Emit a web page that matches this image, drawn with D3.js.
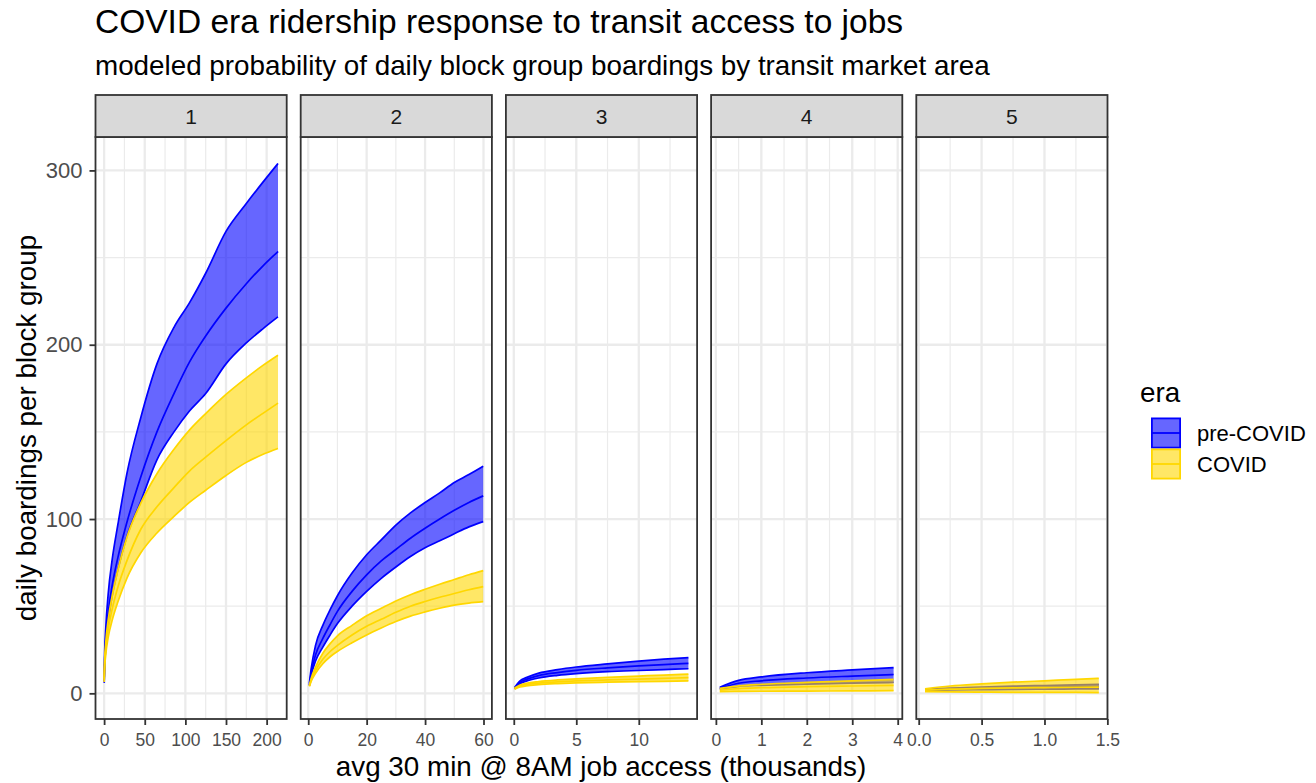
<!DOCTYPE html>
<html>
<head>
<meta charset="utf-8">
<script src="https://cdn.jsdelivr.net/npm/d3@7/dist/d3.min.js"></script>
<style>
  html, body { margin: 0; padding: 0; background: #ffffff; }
  svg { display: block; font-family: "Liberation Sans", Arial, Helvetica, sans-serif; }
</style>
</head>
<body>
<svg id="chart" width="1316" height="783"></svg>
<script>
// ---- data: modeled daily boardings by job access, per transit market area ----
const marketAreas = ["1", "2", "3", "4", "5"];
const eras = ["pre-COVID", "COVID"];

// market area 1 (access in thousands of jobs)
const ma1Access = [0.1, 0.5, 2, 5, 10, 17, 28, 45, 65, 86, 105, 125, 150, 175, 195, 214];
const ma1PreLow = [6, 13, 27, 41, 56, 71, 90, 110, 134, 150, 162, 172, 189, 201, 209, 216];
const ma1PreMid = [7.5, 16, 30, 46, 62, 78, 98, 124, 150, 172, 190, 205, 221, 235, 245, 253.5];
const ma1PreHigh = [9, 20, 37, 57, 77, 97, 126, 158, 189, 210, 224, 241, 265, 281, 293, 304];
const ma1CovLow = [6.5, 13, 22, 32, 42, 52.5, 66, 80.5, 92, 101.5, 109.5, 116.5, 125, 132.5, 137, 140.5];
const ma1CovMid = [7.5, 15, 25, 36.5, 48.5, 61, 76, 94, 107, 118, 127.5, 135.5, 145, 154, 160.5, 166.5];
const ma1CovHigh = [8.5, 17.5, 29, 42, 56, 71, 89.5, 109, 126, 140, 151, 160.5, 171.5, 181, 188, 194];

// market area 2
const ma2Access = [0.4, 1, 2.5, 5, 7.5, 10, 15, 20, 25, 30, 35, 40, 45, 50, 55, 59.9];
const ma2PreLow = [4.5, 10, 18.5, 26.5, 33.5, 40, 50, 58.5, 66, 72.5, 78.5, 83.5, 87.5, 91.6, 95.5, 98.5];
const ma2PreMid = [5, 11.5, 22, 31.5, 39.5, 47, 58.5, 68, 76, 82.5, 89, 94.7, 100, 105, 109.5, 113.3];
const ma2PreHigh = [6, 14, 27.5, 39, 48, 56, 69, 79.5, 88, 96.5, 103.5, 109.5, 115, 121, 125.5, 130.3];
const ma2CovLow = [4, 6.8, 11.5, 17, 21, 24, 29, 33.5, 37.5, 41.2, 44.3, 46.7, 48.8, 50.6, 51.8, 52.6];
const ma2CovMid = [4.2, 7.5, 13, 19.5, 24, 27.5, 33.5, 38.5, 42.5, 46.5, 50, 52.7, 55.1, 57.3, 59.4, 61.2];
const ma2CovHigh = [4.5, 8.5, 15, 23, 28.5, 33, 39, 44.5, 48.8, 53, 56.6, 59.7, 62.6, 65.3, 68, 70.4];

// market area 3
const ma3Access = [0.065, 0.5, 1, 2, 3.5, 5, 7.5, 10, 12, 13.97];
const ma3PreLow = [2.5, 5.5, 7, 8.8, 10.3, 11.3, 12.4, 13.1, 13.6, 14.1];
const ma3PreMid = [2.9, 6.3, 8, 10.2, 11.9, 13.2, 14.6, 15.7, 16.5, 17.2];
const ma3PreHigh = [3.3, 7.2, 9, 11.6, 13.6, 15.1, 16.9, 18.5, 19.6, 20.5];
const ma3CovLow = [2.3, 3.6, 4.3, 5.0, 5.6, 6.0, 6.4, 6.7, 6.9, 7.1];
const ma3CovMid = [2.7, 4.2, 5.0, 5.9, 6.6, 7.1, 7.7, 8.2, 8.6, 9.0];
const ma3CovHigh = [3.1, 4.8, 5.8, 6.8, 7.7, 8.3, 9.2, 9.9, 10.5, 11.0];

// market area 4
const ma4Access = [0.086, 0.5, 1, 2, 3, 3.91];
const ma4PreLow = [2.4, 4.0, 4.6, 5.3, 5.8, 6.2];
const ma4PreMid = [2.9, 5.8, 7.2, 8.8, 9.9, 10.8];
const ma4PreHigh = [3.4, 7.4, 9.4, 11.8, 13.4, 14.7];
const ma4CovLow = [0.9, 1.1, 1.2, 1.3, 1.4, 1.5];
const ma4CovMid = [1.8, 2.7, 3.2, 3.8, 4.2, 4.6];
const ma4CovHigh = [2.8, 4.3, 5.2, 6.3, 7.2, 8.0];

// market area 5
const ma5Access = [0.05, 0.25, 0.5, 0.75, 1.0, 1.25, 1.432];
const ma5PreLow = [1.5, 1.9, 2.1, 2.3, 2.4, 2.5, 2.6];
const ma5PreMid = [1.8, 2.4, 2.9, 3.2, 3.5, 3.7, 3.8];
const ma5PreHigh = [2.1, 3.0, 3.6, 4.1, 4.5, 4.9, 5.1];
const ma5CovLow = [1.0, 0.8, 0.7, 0.6, 0.55, 0.5, 0.45];
const ma5CovMid = [1.8, 2.4, 2.8, 3.1, 3.3, 3.5, 3.6];
const ma5CovHigh = [2.6, 4.2, 5.4, 6.4, 7.2, 8.0, 8.6];

// tick values
const yTicks = [0, 100, 200, 300];
const yMinorTicks = [50, 150, 250];
const xTicksByArea = [[0, 50, 100, 150, 200], [0, 20, 40, 60], [0, 5, 10], [0, 1, 2, 3, 4], [0, 0.5, 1, 1.5]];
const xMinorByArea = [[25, 75, 125, 175], [10, 30, 50], [2.5, 7.5, 12.5], [0.5, 1.5, 2.5, 3.5], [0.25, 0.75, 1.25]];
const xTickFormats = [d3.format("d"), d3.format("d"), d3.format("d"), d3.format("d"), d3.format(".1f")];

// ---- assemble series per panel ----
function band(x, lo, mid, hi) {
  return x.map((v, i) => ({ x: v, lo: lo[i], mid: mid[i], hi: hi[i] }));
}
const panels = [
  { x: ma1Access, pre: band(ma1Access, ma1PreLow, ma1PreMid, ma1PreHigh), cov: band(ma1Access, ma1CovLow, ma1CovMid, ma1CovHigh) },
  { x: ma2Access, pre: band(ma2Access, ma2PreLow, ma2PreMid, ma2PreHigh), cov: band(ma2Access, ma2CovLow, ma2CovMid, ma2CovHigh) },
  { x: ma3Access, pre: band(ma3Access, ma3PreLow, ma3PreMid, ma3PreHigh), cov: band(ma3Access, ma3CovLow, ma3CovMid, ma3CovHigh) },
  { x: ma4Access, pre: band(ma4Access, ma4PreLow, ma4PreMid, ma4PreHigh), cov: band(ma4Access, ma4CovLow, ma4CovMid, ma4CovHigh) },
  { x: ma5Access, pre: band(ma5Access, ma5PreLow, ma5PreMid, ma5PreHigh), cov: band(ma5Access, ma5CovLow, ma5CovMid, ma5CovHigh) }
];

// ---- layout ----
const svg = d3.select("#chart");
const panelLeft = 95.5, panelW = 191.2, panelGap = 14;
const panelTop = 137, panelBottom = 719, stripTop = 95;
const colors = { "pre-COVID": "#0000FF", "COVID": "#FFD700" };
const fillAlpha = 0.6;
const gridColor = "#EBEBEB";

function expand(ext) {
  const r = ext[1] - ext[0];
  return [ext[0] - 0.05 * r, ext[1] + 0.05 * r];
}

// shared y scale
const allY = panels.flatMap(p => p.pre.concat(p.cov).flatMap(d => [d.lo, d.hi]));
const y = d3.scaleLinear().domain(expand(d3.extent(allY))).range([panelBottom, panelTop]);

// titles
svg.append("text").attr("x", 95).attr("y", 33)
  .attr("font-size", 33.5).attr("fill", "#000")
  .text("COVID era ridership response to transit access to jobs");
svg.append("text").attr("x", 95).attr("y", 75)
  .attr("font-size", 27.8).attr("fill", "#000")
  .text("modeled probability of daily block group boardings by transit market area");

const defs = svg.append("defs");

panels.forEach((p, i) => {
  const x0 = panelLeft + i * (panelW + panelGap);
  const x = d3.scaleLinear().domain(expand(d3.extent(p.x))).range([x0, x0 + panelW]);

  const clipId = "clip-" + i;
  defs.append("clipPath").attr("id", clipId)
    .append("rect").attr("x", x0).attr("y", panelTop).attr("width", panelW).attr("height", panelBottom - panelTop);

  const g = svg.append("g");
  g.append("rect").attr("x", x0).attr("y", panelTop).attr("width", panelW).attr("height", panelBottom - panelTop).attr("fill", "#fff");

  const grid = g.append("g").attr("clip-path", `url(#${clipId})`);
  // minor grid
  grid.selectAll(".ymin").data(yMinorTicks).join("line")
    .attr("x1", x0).attr("x2", x0 + panelW).attr("y1", d => y(d)).attr("y2", d => y(d))
    .attr("stroke", gridColor).attr("stroke-width", 1.2);
  grid.selectAll(".xmin").data(xMinorByArea[i]).join("line")
    .attr("x1", d => x(d)).attr("x2", d => x(d)).attr("y1", panelTop).attr("y2", panelBottom)
    .attr("stroke", gridColor).attr("stroke-width", 1.2);
  // major grid
  grid.selectAll(".ymaj").data(yTicks).join("line")
    .attr("x1", x0).attr("x2", x0 + panelW).attr("y1", d => y(d)).attr("y2", d => y(d))
    .attr("stroke", gridColor).attr("stroke-width", 2.3);
  grid.selectAll(".xmaj").data(xTicksByArea[i]).join("line")
    .attr("x1", d => x(d)).attr("x2", d => x(d)).attr("y1", panelTop).attr("y2", panelBottom)
    .attr("stroke", gridColor).attr("stroke-width", 2.3);

  // ribbons and lines, pre-COVID first, COVID drawn over it
  const marks = g.append("g").attr("clip-path", `url(#${clipId})`);
  const area = d3.area().x(d => x(d.x)).y0(d => y(d.lo)).y1(d => y(d.hi)).curve(d3.curveMonotoneX);
  const line = key => d3.line().x(d => x(d.x)).y(d => y(d[key])).curve(d3.curveMonotoneX);
  [["pre-COVID", p.pre], ["COVID", p.cov]].forEach(([era, data]) => {
    const c = colors[era];
    const eg = marks.append("g");
    eg.append("path").datum(data).attr("d", area).attr("fill", c).attr("fill-opacity", fillAlpha);
    ["lo", "hi", "mid"].forEach(k => {
      eg.append("path").datum(data).attr("d", line(k))
        .attr("fill", "none").attr("stroke", c).attr("stroke-width", 1.7).attr("stroke-linejoin", "round");
    });
  });

  // panel border
  g.append("rect").attr("x", x0).attr("y", panelTop).attr("width", panelW).attr("height", panelBottom - panelTop)
    .attr("fill", "none").attr("stroke", "#333333").attr("stroke-width", 1.8);

  // strip
  g.append("rect").attr("x", x0).attr("y", stripTop).attr("width", panelW).attr("height", panelTop - stripTop)
    .attr("fill", "#D9D9D9").attr("stroke", "#333333").attr("stroke-width", 1.8);
  g.append("text").attr("x", x0 + panelW / 2).attr("y", (stripTop + panelTop) / 2)
    .attr("text-anchor", "middle").attr("dominant-baseline", "central")
    .attr("font-size", 21).attr("fill", "#1A1A1A").text(marketAreas[i]);

  // x axis
  const xa = svg.append("g").attr("transform", `translate(0,${panelBottom})`)
    .call(d3.axisBottom(x).tickValues(xTicksByArea[i]).tickFormat(xTickFormats[i]).tickSize(6).tickSizeOuter(0).tickPadding(8.5));
  xa.select(".domain").remove();
  xa.selectAll(".tick line").attr("stroke", "#333333").attr("stroke-width", 1.8);
  xa.selectAll(".tick text").attr("fill", "#4D4D4D").attr("font-size", 17.5)
    .attr("font-family", "Liberation Sans, Arial, sans-serif");

  if (i === 0) {
    const ya = svg.append("g").attr("transform", `translate(${x0},0)`)
      .call(d3.axisLeft(y).tickValues(yTicks).tickFormat(d3.format("d")).tickSize(6).tickSizeOuter(0).tickPadding(7));
    ya.select(".domain").remove();
    ya.selectAll(".tick line").attr("stroke", "#333333").attr("stroke-width", 1.8);
    ya.selectAll(".tick text").attr("fill", "#4D4D4D").attr("font-size", 22)
      .attr("font-family", "Liberation Sans, Arial, sans-serif");
  }
});

// axis titles
svg.append("text").attr("x", 601).attr("y", 776).attr("text-anchor", "middle")
  .attr("font-size", 27.8).attr("fill", "#000")
  .text("avg 30 min @ 8AM job access (thousands)");
svg.append("text").attr("transform", "translate(36,428) rotate(-90)").attr("text-anchor", "middle")
  .attr("font-size", 27.8).attr("fill", "#000")
  .text("daily boardings per block group");

// legend
const leg = svg.append("g");
leg.append("text").attr("x", 1140).attr("y", 402).attr("font-size", 27.8).attr("fill", "#000").text("era");
const keyX = 1151, keyY = 417.5, keyW = 30, keyH = 31;
eras.forEach((era, i) => {
  const ky = keyY + i * keyH;
  const c = colors[era];
  leg.append("rect").attr("x", keyX + 0.9).attr("y", ky + 0.9).attr("width", keyW - 1.8).attr("height", keyH - 1.8)
    .attr("fill", c).attr("fill-opacity", fillAlpha).attr("stroke", c).attr("stroke-width", 1.8);
  leg.append("line").attr("x1", keyX + 1).attr("x2", keyX + keyW - 1).attr("y1", ky + keyH / 2).attr("y2", ky + keyH / 2)
    .attr("stroke", c).attr("stroke-width", 1.8);
  leg.append("text").attr("x", 1197).attr("y", ky + keyH / 2).attr("dominant-baseline", "central")
    .attr("font-size", 22).attr("fill", "#000").text(era);
});
</script>
</body>
</html>
